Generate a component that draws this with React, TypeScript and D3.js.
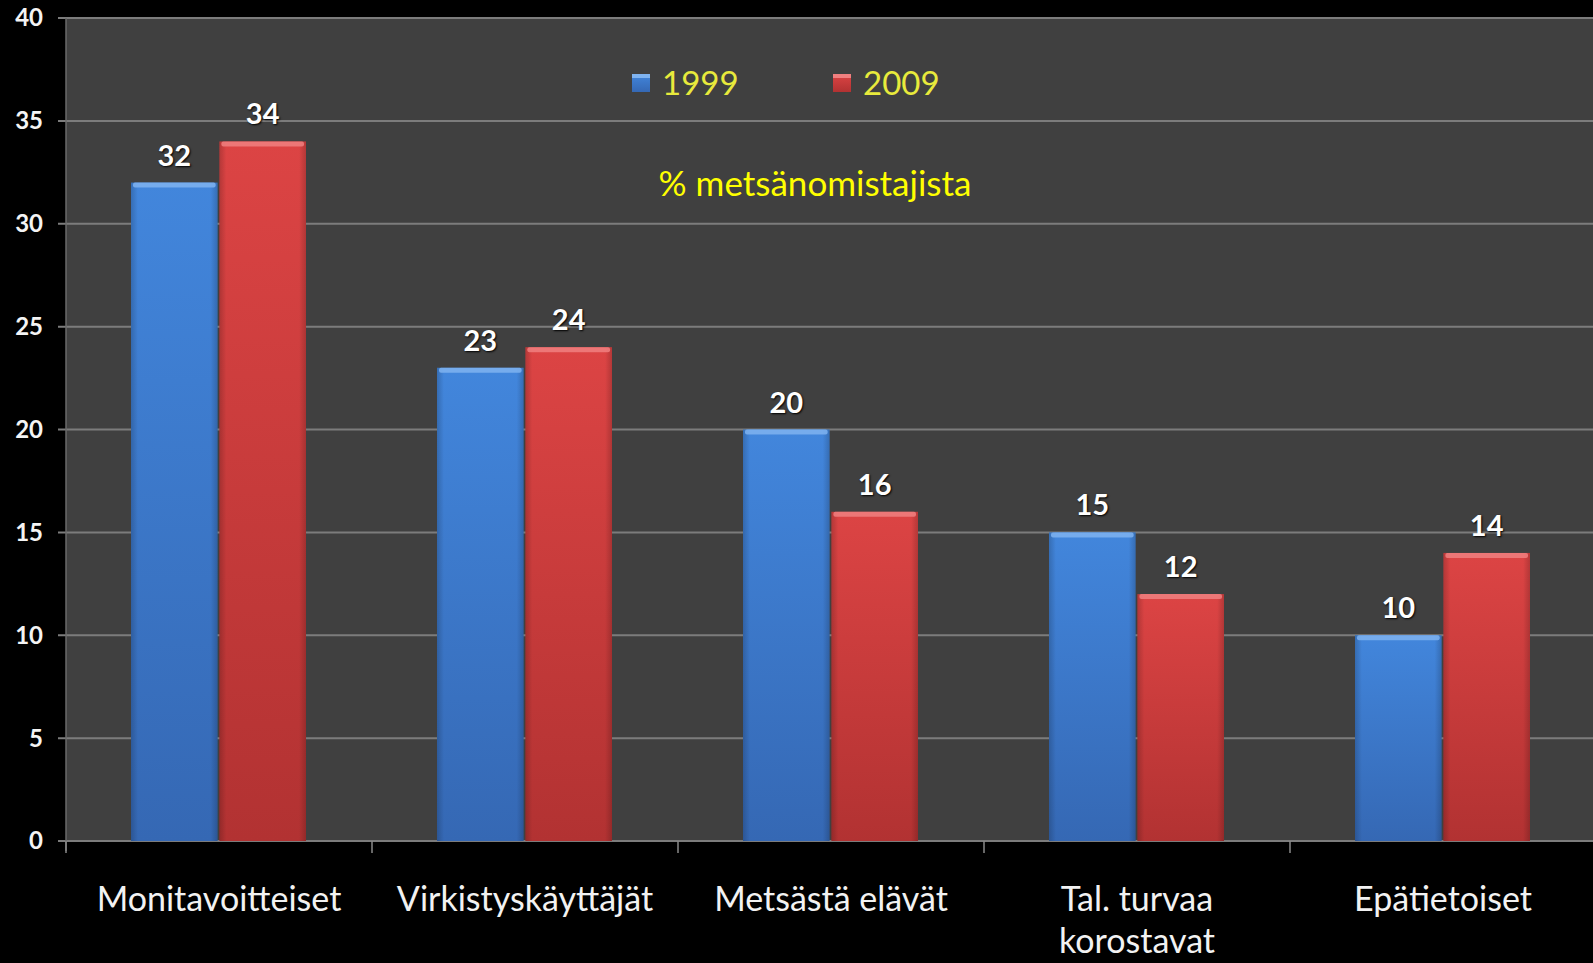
import * as d3 from "d3";

const categories = [
  "Monitavoitteiset",
  "Virkistyskäyttäjät",
  "Metsästä elävät",
  "Tal. turvaa\nkorostavat",
  "Epätietoiset",
];
const series = ["1999", "2009"];
const values1999 = [32, 23, 20, 15, 10];
const values2009 = [34, 24, 16, 12, 14];
const yTicks = [0, 5, 10, 15, 20, 25, 30, 35, 40];

const W = 1593;
const H = 963;
const font = "Lato, 'Open Sans', sans-serif";

export default function App() {
  const x = d3.scaleBand<string>().domain(categories).range([66, 66 + 306 * 5]);
  const xs = d3.scaleBand<string>().domain(series).range([65, 240]).paddingInner(0.02);
  const y = d3.scaleLinear().domain([0, 40]).range([841, 18]);

  const rows = categories.map((c, i) => ({ c, vals: [values1999[i], values2009[i]] }));
  const fills = ["url(#gBlue)", "url(#gRed)"];
  const tops = ["#7fb3f0", "#f08080"];

  return (
    <svg
      width={W}
      height={H}
      style={{ position: "absolute", left: 0, top: 0, background: "#000" }}
    >
      <defs>
        <linearGradient id="gBlue" x1="0" y1="0" x2="0" y2="1">
          <stop offset="0" stopColor="#4286dc" />
          <stop offset="1" stopColor="#3568b4" />
        </linearGradient>
        <linearGradient id="gRed" x1="0" y1="0" x2="0" y2="1">
          <stop offset="0" stopColor="#dc4444" />
          <stop offset="1" stopColor="#b23232" />
        </linearGradient>
        <linearGradient id="gSide" x1="0" y1="0" x2="1" y2="0">
          <stop offset="0" stopColor="#000" stopOpacity="0.18" />
          <stop offset="0.08" stopColor="#000" stopOpacity="0" />
          <stop offset="0.92" stopColor="#000" stopOpacity="0" />
          <stop offset="1" stopColor="#000" stopOpacity="0.18" />
        </linearGradient>
      </defs>

      {/* plot area */}
      <rect x={66} y={y(40)} width={W - 66} height={y(0) - y(40)} fill="#404040" />

      {yTicks.map((t) => (
        <g key={t}>
          <line x1={58} x2={W} y1={y(t)} y2={y(t)} stroke="#7c7c7c" strokeWidth={2} />
          <text
            x={43}
            y={y(t)}
            dy="0.35em"
            textAnchor="end"
            fill="#f4f4f4"
            fontFamily={font}
            fontWeight={700}
            fontSize={24}
          >
            {t}
          </text>
        </g>
      ))}
      <line x1={66} x2={66} y1={y(40)} y2={y(0) + 10} stroke="#6a6a6a" strokeWidth={1.5} />

      {/* category ticks */}
      {categories.map((c) => (
        <line
          key={c}
          x1={x(c)!}
          x2={x(c)!}
          y1={y(0)}
          y2={y(0) + 12}
          stroke="#8a8a8a"
          strokeWidth={1.5}
        />
      ))}

      {rows.map((r) => (
        <g key={r.c} transform={`translate(${x(r.c)},0)`}>
          {r.vals.map((v, j) => {
            const bx = xs(series[j])!;
            const bw = xs.bandwidth();
            const by = y(v);
            return (
              <g key={j}>
                <rect x={bx} y={by} width={bw} height={y(0) - by} fill={fills[j]} />
                <rect x={bx} y={by} width={bw} height={y(0) - by} fill="url(#gSide)" />
                <rect x={bx + 2} y={by} width={bw - 4} height={5} rx={2} fill={tops[j]} opacity={0.85} />
                <text
                  x={bx + bw / 2}
                  y={by - 17}
                  textAnchor="middle"
                  fill="#ffffff"
                  fontFamily={font}
                  fontWeight={700}
                  fontSize={29}
                  style={{ textShadow: "1px 1px 2px #000" }}
                >
                  {v}
                </text>
              </g>
            );
          })}
          {r.c.split("\n").map((line, k) => (
            <text
              key={k}
              x={x.bandwidth() / 2}
              y={911 + k * 42}
              textAnchor="middle"
              fill="#f2f2f2"
              fontFamily={font}
              fontSize={34}
            >
              {line}
            </text>
          ))}
        </g>
      ))}

      {/* legend */}
      {series.map((s, j) => {
        const lx = [632, 833][j];
        return (
          <g key={s}>
            <rect x={lx} y={74} width={18} height={18} fill={fills[j]} />
            <rect x={lx} y={74} width={18} height={4} fill={tops[j]} />
            <text
              x={lx + 30}
              y={95}
              fill="#e8ea3c"
              fontFamily={font}
              fontSize={33}
            >
              {s}
            </text>
          </g>
        );
      })}

      <text x={815} y={196} textAnchor="middle" fill="#ffff00" fontFamily={font} fontSize={35}>
        % metsänomistajista
      </text>
    </svg>
  );
}
